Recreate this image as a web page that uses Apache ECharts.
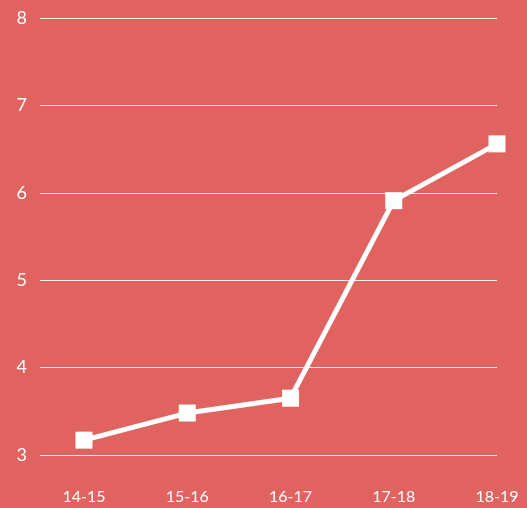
<!DOCTYPE html>
<html>
<head>
<meta charset="utf-8">
<script src="https://cdn.jsdelivr.net/npm/echarts@6/dist/echarts.min.js"></script>
<style>
  html, body { margin: 0; padding: 0; background: #e06360; }
  #main { width: 527px; height: 508px; }
</style>
</head>
<body>
<div id="main"></div>
<script>
  var seasons = ['14-15', '15-16', '16-17', '17-18', '18-19'];
  var values = [3.17, 3.48, 3.65, 5.91, 6.56];
  var yTicks = [3, 4, 5, 6, 7, 8];

  var chart = echarts.init(document.getElementById('main'));
  var font = 'Lato';
  var option = {
    backgroundColor: '#e06360',
    animation: false,
    grid: [
      // grid lines + y labels
      { left: 40, right: 30, top: 18, bottom: 53 },
      // data area
      { left: 84, right: 30, top: 18, bottom: 53 }
    ],
    xAxis: [
      { gridIndex: 0, type: 'value', show: false },
      {
        gridIndex: 1,
        type: 'category',
        data: seasons,
        boundaryGap: false,
        axisLine: { show: false },
        axisTick: { show: false },
        axisLabel: { color: '#ffffff', fontSize: 16, fontFamily: font, margin: 34 }
      }
    ],
    yAxis: [
      {
        gridIndex: 0,
        type: 'value',
        min: yTicks[0],
        max: yTicks[yTicks.length - 1],
        interval: 1,
        axisLine: { show: false },
        axisTick: { show: false },
        axisLabel: { color: '#ffffff', fontSize: 18, fontFamily: font, margin: 13 },
        splitLine: { lineStyle: { color: 'rgba(255,255,255,0.9)', width: 1 } }
      },
      {
        gridIndex: 1,
        type: 'value',
        min: yTicks[0],
        max: yTicks[yTicks.length - 1],
        show: false,
        splitLine: { show: false }
      }
    ],
    series: [{
      type: 'line',
      xAxisIndex: 1,
      yAxisIndex: 1,
      data: values,
      symbol: 'rect',
      symbolSize: 17,
      lineStyle: { color: '#ffffff', width: 5 },
      itemStyle: { color: '#ffffff' }
    }]
  };
  chart.setOption(option);
</script>
</body>
</html>
